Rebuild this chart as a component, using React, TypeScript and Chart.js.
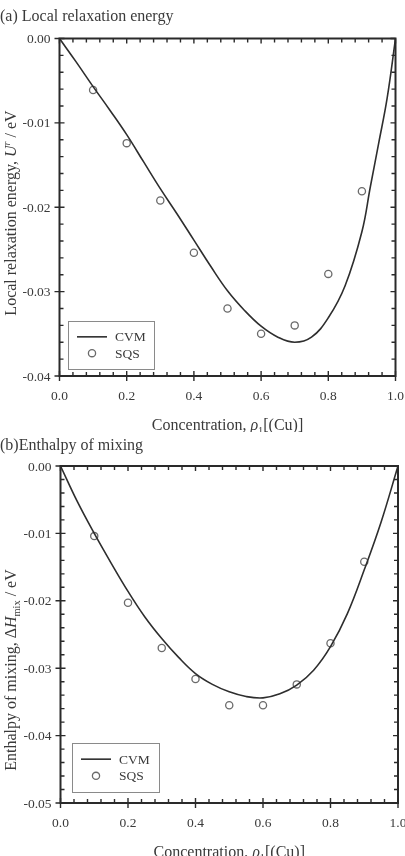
import React, { useEffect, useRef } from "react";
import { Chart, registerables } from "chart.js";

Chart.register(...registerables);

// ---------- data ----------
const seriesLabels = ["CVM", "SQS"];
const sqsConcentration = [0.1, 0.2, 0.3, 0.4, 0.5, 0.6, 0.7, 0.8, 0.9];

// (a) Local relaxation energy
const sqsRelaxation = [-0.0061, -0.0124, -0.0192, -0.0254, -0.0320, -0.0350, -0.0340, -0.0279, -0.0181];
const cvmRelaxationX = [0, 0.05, 0.1, 0.15, 0.2, 0.25, 0.3, 0.35, 0.4, 0.45, 0.5, 0.55, 0.6, 0.65, 0.7, 0.75, 0.8, 0.85, 0.9, 0.925, 0.95, 0.975, 1.0];
const cvmRelaxationY = [0, -0.0028, -0.0057, -0.0085, -0.0114, -0.0146, -0.0178, -0.0208, -0.0239, -0.0270, -0.0299, -0.0322, -0.0341, -0.0354, -0.0360, -0.0354, -0.0331, -0.0293, -0.0229, -0.0176, -0.0124, -0.0071, 0];

// (b) Enthalpy of mixing
const sqsEnthalpy = [-0.0104, -0.0203, -0.0270, -0.0316, -0.0355, -0.0355, -0.0324, -0.0263, -0.0142];
const cvmEnthalpyX = [0, 0.05, 0.1, 0.15, 0.2, 0.25, 0.3, 0.35, 0.4, 0.45, 0.5, 0.55, 0.6, 0.65, 0.7, 0.75, 0.8, 0.85, 0.9, 0.95, 1.0];
const cvmEnthalpyY = [0, -0.0053, -0.0100, -0.0144, -0.0186, -0.0224, -0.0256, -0.0284, -0.0308, -0.0324, -0.0335, -0.0342, -0.0344, -0.0338, -0.0325, -0.0303, -0.0268, -0.0219, -0.0154, -0.0083, 0];

// ticks
const xTickValues = [0, 0.2, 0.4, 0.6, 0.8, 1.0];
const yTickValuesA = [0, -0.01, -0.02, -0.03, -0.04];
const yTickValuesB = [0, -0.01, -0.02, -0.03, -0.04, -0.05];

// ---------- drawing helpers ----------
const FONT = '"Liberation Serif", "Times New Roman", serif';
const TEXT = "#3a3a3a";
const AXIS = "#2a2a2a";

type Seg = { t: string; it?: boolean; sub?: boolean; sup?: boolean };

function segFont(s: Seg, size: number) {
  const sz = s.sub || s.sup ? size * 0.65 : size;
  return `${s.it ? "italic " : ""}${sz}px ${FONT}`;
}

function richWidth(ctx: CanvasRenderingContext2D, segs: Seg[], size: number) {
  let w = 0;
  for (const s of segs) {
    ctx.font = segFont(s, size);
    w += ctx.measureText(s.t).width;
  }
  return w;
}

function drawRich(ctx: CanvasRenderingContext2D, segs: Seg[], x: number, y: number, size: number, align: "left" | "center") {
  const w = richWidth(ctx, segs, size);
  let cx = align === "center" ? x - w / 2 : x;
  ctx.textAlign = "left";
  ctx.textBaseline = "alphabetic";
  for (const s of segs) {
    ctx.font = segFont(s, size);
    const dy = s.sub ? size * 0.22 : s.sup ? -size * 0.4 : 0;
    ctx.fillText(s.t, cx, y + dy);
    cx += ctx.measureText(s.t).width;
  }
}

const decorPlugin = {
  id: "decor",
  afterDraw(chart: any, _args: any, o: any) {
    const ctx: CanvasRenderingContext2D = chart.ctx;
    const a = chart.chartArea;
    const xs = chart.scales.x;
    const ys = chart.scales.y;
    ctx.save();
    // frame
    ctx.strokeStyle = AXIS;
    ctx.lineWidth = 2;
    ctx.strokeRect(a.left, a.top, a.right - a.left, a.bottom - a.top);

    // ticks
    ctx.lineWidth = 1.4;
    ctx.beginPath();
    const xMinor = 0.04;
    for (let i = 0; i <= 25; i++) {
      const v = i * xMinor;
      const px = xs.getPixelForValue(v);
      const major = i % 5 === 0;
      if (major) {
        ctx.moveTo(px, a.bottom + 5);
        ctx.lineTo(px, a.bottom - 5);
        ctx.moveTo(px, a.top);
        ctx.lineTo(px, a.top + 5);
      } else {
        ctx.moveTo(px, a.bottom);
        ctx.lineTo(px, a.bottom - 4);
        ctx.moveTo(px, a.top);
        ctx.lineTo(px, a.top + 4);
      }
    }
    const nY = Math.round((0 - o.yMin) / 0.002);
    for (let i = 0; i <= nY; i++) {
      const v = -i * 0.002;
      const py = ys.getPixelForValue(v);
      const major = i % 5 === 0;
      if (major) {
        ctx.moveTo(a.left - 5, py);
        ctx.lineTo(a.left + 5, py);
        ctx.moveTo(a.right, py);
        ctx.lineTo(a.right - 5, py);
      } else {
        ctx.moveTo(a.left, py);
        ctx.lineTo(a.left + 4, py);
        ctx.moveTo(a.right, py);
        ctx.lineTo(a.right - 4, py);
      }
    }
    ctx.stroke();

    // tick labels
    ctx.fillStyle = TEXT;
    ctx.font = `13.5px ${FONT}`;
    ctx.textBaseline = "alphabetic";
    ctx.textAlign = "center";
    for (const v of xTickValues) {
      ctx.fillText(v.toFixed(1), xs.getPixelForValue(v), a.bottom + 24);
    }
    ctx.textAlign = "right";
    for (const v of o.yTicks) {
      ctx.fillText(v.toFixed(2), a.left - 9, ys.getPixelForValue(v) + 4.5);
    }

    // panel title
    ctx.font = `16px ${FONT}`;
    ctx.textAlign = "left";
    ctx.fillText(o.title, 0, o.titleBaseline);

    // x title
    drawRich(ctx, [
      { t: "Concentration, " },
      { t: "ρ", it: true },
      { t: "1", sub: true },
      { t: "[(Cu)]" },
    ], (a.left + a.right) / 2, o.xTitleBaseline, 16, "center");

    // y title (rotated)
    ctx.save();
    ctx.translate(o.yTitleX, o.yTitleCenter);
    ctx.rotate(-Math.PI / 2);
    drawRich(ctx, o.yTitleSegs, 0, 0, 16, "center");
    ctx.restore();

    // legend
    const L = o.legend;
    ctx.strokeStyle = "#8a8a8a";
    ctx.lineWidth = 1;
    ctx.strokeRect(L.x + 0.5, L.y + 0.5, L.w, L.h);
    const ds = chart.data.datasets;
    const row1 = L.y + L.h * 0.33;
    const row2 = L.y + L.h * 0.67;
    ctx.strokeStyle = ds[0].borderColor;
    ctx.lineWidth = ds[0].borderWidth;
    ctx.beginPath();
    ctx.moveTo(L.x + 9, row1);
    ctx.lineTo(L.x + 39, row1);
    ctx.stroke();
    ctx.strokeStyle = ds[1].pointBorderColor;
    ctx.lineWidth = ds[1].pointBorderWidth;
    ctx.beginPath();
    ctx.arc(L.x + 24, row2, ds[1].pointRadius, 0, Math.PI * 2);
    ctx.stroke();
    ctx.fillStyle = TEXT;
    ctx.font = `13.5px ${FONT}`;
    ctx.textAlign = "left";
    ctx.fillText(ds[0].label, L.x + 47, row1 + 4.5);
    ctx.fillText(ds[1].label, L.x + 47, row2 + 4.5);

    ctx.restore();
  },
};

function makeConfig(
  cx: number[], cy: number[], sy: number[], yMin: number,
  padding: any, decor: any
) {
  return {
    type: "line" as const,
    data: {
      datasets: [
        {
          label: seriesLabels[0],
          data: cx.map((x, i) => ({ x, y: cy[i] })),
          borderColor: "#2e2e2e",
          borderWidth: 1.6,
          pointRadius: 0,
          fill: false,
          tension: 0.4,
        },
        {
          label: seriesLabels[1],
          data: sqsConcentration.map((x, i) => ({ x, y: sy[i] })),
          showLine: false,
          borderColor: "#6a6a6a",
          backgroundColor: "rgba(255,255,255,0)",
          pointRadius: 3.6,
          pointBorderColor: "#6a6a6a",
          pointBackgroundColor: "rgba(255,255,255,0)",
          pointBorderWidth: 1.3,
          pointStyle: "circle",
          clip: false,
        },
      ],
    },
    options: {
      animation: false,
      responsive: false,
      maintainAspectRatio: false,
      devicePixelRatio: 1,
      layout: { padding },
      plugins: {
        legend: { display: false },
        tooltip: { enabled: false },
        decor: { ...decor, yMin },
      },
      scales: {
        x: { type: "linear", min: 0, max: 1, display: false },
        y: { type: "linear", min: yMin, max: 0, display: false },
      },
    },
    plugins: [decorPlugin],
  };
}

export default function App() {
  const refA = useRef<HTMLCanvasElement>(null);
  const refB = useRef<HTMLCanvasElement>(null);

  useEffect(() => {
    const chartA = new Chart(
      refA.current!,
      makeConfig(
        cvmRelaxationX, cvmRelaxationY, sqsRelaxation, -0.04,
        { left: 59.5, right: 9.5, top: 38.5, bottom: 56 },
        {
          title: "(a) Local relaxation energy",
          titleBaseline: 21,
          xTitleBaseline: 430,
          yTicks: yTickValuesA,
          yTitleX: 16,
          yTitleCenter: 213,
          yTitleSegs: [
            { t: "Local relaxation energy, " },
            { t: "U", it: true },
            { t: "r", it: true, sup: true },
            { t: " / eV" },
          ],
          legend: { x: 68, y: 321, w: 86, h: 48 },
        }
      ) as any
    );
    const chartB = new Chart(
      refB.current!,
      makeConfig(
        cvmEnthalpyX, cvmEnthalpyY, sqsEnthalpy, -0.05,
        { left: 60.5, right: 7, top: 34, bottom: 53 },
        {
          title: "(b)Enthalpy of mixing",
          titleBaseline: 18,
          xTitleBaseline: 425,
          yTicks: yTickValuesB,
          yTitleX: 16,
          yTitleCenter: 238,
          yTitleSegs: [
            { t: "Enthalpy of mixing, " },
            { t: "Δ" },
            { t: "H", it: true },
            { t: "mix", sub: true },
            { t: " / eV" },
          ],
          legend: { x: 72, y: 311, w: 87, h: 49 },
        }
      ) as any
    );
    return () => {
      chartA.destroy();
      chartB.destroy();
    };
  }, []);

  return (
    <div style={{ position: "absolute", left: 0, top: 0, width: 405, height: 856, background: "#fff", overflow: "hidden" }}>
      <canvas ref={refA} width={405} height={432} style={{ position: "absolute", left: 0, top: 0, width: 405, height: 432 }} />
      <canvas ref={refB} width={405} height={424} style={{ position: "absolute", left: 0, top: 432, width: 405, height: 424 }} />
    </div>
  );
}
